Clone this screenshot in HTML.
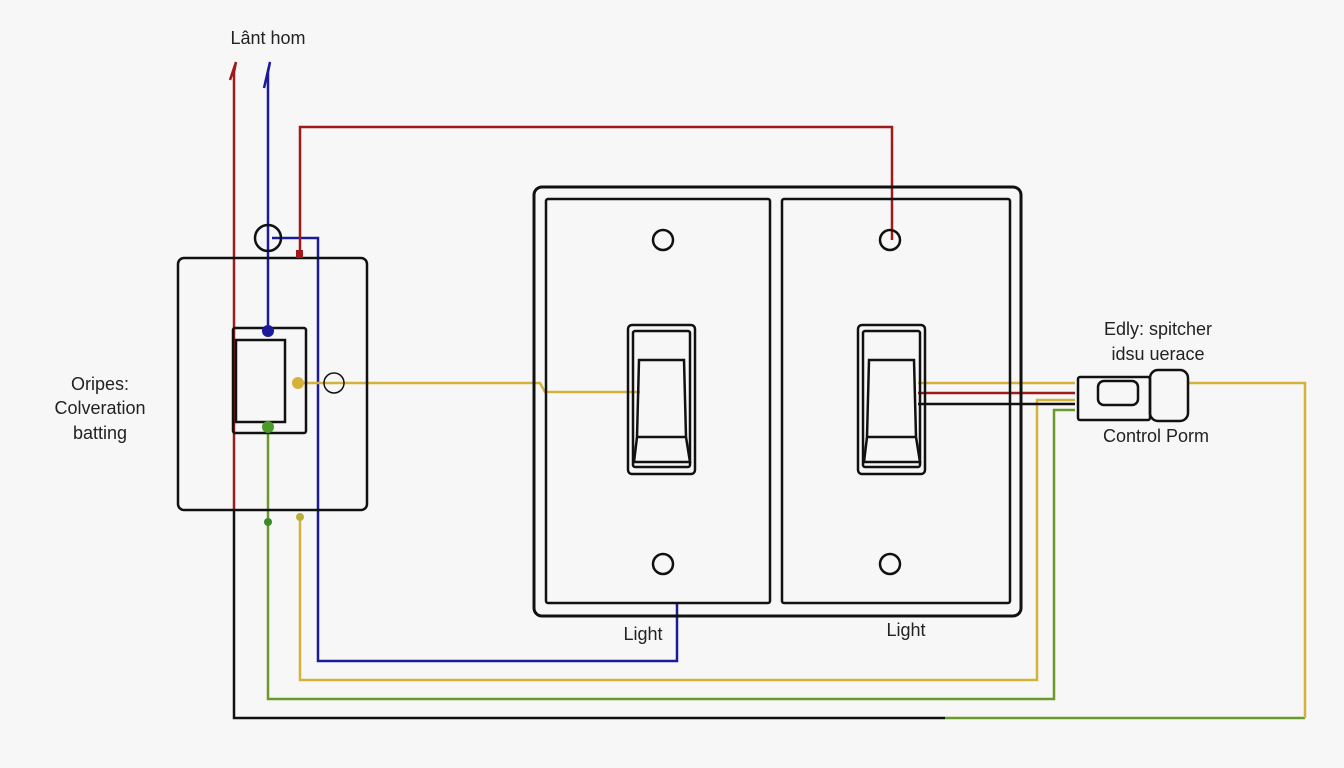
<!DOCTYPE html>
<html><head><meta charset="utf-8"><style>
html,body{margin:0;padding:0;background:#f7f7f7;}
svg{display:block}
text{font-family:"Liberation Sans",sans-serif;fill:#222;font-size:18px}
</style></head><body>
<svg width="1344" height="768" viewBox="0 0 1344 768" xmlns="http://www.w3.org/2000/svg">
<rect width="1344" height="768" fill="#f7f7f7"/>
<g fill="none" stroke-width="2.5">
<!-- red left -->
<polyline points="230,80 236,62 234,72 234,510" stroke="#a01a1a"/>
<polyline points="234,510 234,718 945,718" stroke="#111"/>
<polyline points="945,718 1305,718" stroke="#6a9a2a"/>
<polyline points="1188,383 1305,383 1305,718" stroke="#d4b23a"/>
<!-- blue -->
<polyline points="264,88 270,62 268,72 268,331" stroke="#1a1a9a"/>
<polyline points="272,238 318,238 318,661 677,661 677,603" stroke="#1a1a9a"/>
<!-- red top loop -->
<polyline points="300,258 300,127 892,127 892,240" stroke="#a01a1a"/>
<!-- yellow -->
<polyline points="298,383 540,383 545,392 640,392" stroke="#d4b23a"/>
<polyline points="300,517 300,680 1037,680 1037,400 1075,400" stroke="#d4b23a"/>
<!-- green -->
<polyline points="268,427 268,699 1054,699 1054,410 1075,410" stroke="#6a9a2a"/>
<!-- right connections -->
<line x1="918" y1="383" x2="1075" y2="383" stroke="#d4b23a"/>
<line x1="918" y1="393" x2="1075" y2="393" stroke="#a01a1a"/>
<line x1="918" y1="404" x2="1075" y2="404" stroke="#111"/>
</g>
<g fill="none" stroke="#111" stroke-width="2.5">
<rect x="178" y="258" width="189" height="252" rx="6"/>
<rect x="233" y="328" width="73" height="105" rx="2"/>
<rect x="236" y="340" width="49" height="82"/>
<circle cx="268" cy="238" r="13"/>
<circle cx="334" cy="383" r="10" stroke-width="1.5"/>
<rect x="534" y="187" width="487" height="429" rx="8" stroke-width="3"/>
<rect x="546" y="199" width="224" height="404" rx="2"/>
<rect x="782" y="199" width="228" height="404" rx="2"/>
<circle cx="663" cy="240" r="10"/><circle cx="890" cy="240" r="10"/>
<circle cx="663" cy="564" r="10"/><circle cx="890" cy="564" r="10"/>
<rect x="628" y="325" width="67" height="149" rx="4"/>
<rect x="633" y="331" width="57" height="136" rx="2"/>
<polygon points="639,360 684,360 686,437 690,462 634,462 637,437"/>
<line x1="636" y1="437" x2="687" y2="437"/>
<rect x="858" y="325" width="67" height="149" rx="4"/>
<rect x="863" y="331" width="57" height="136" rx="2"/>
<polygon points="869,360 914,360 916,437 920,462 864,462 867,437"/>
<line x1="866" y1="437" x2="917" y2="437"/>
<rect x="1078" y="377" width="72" height="43" rx="2"/>
<rect x="1098" y="381" width="40" height="24" rx="6"/>
<rect x="1150" y="370" width="38" height="51" rx="8"/>
</g>
<circle cx="268" cy="331" r="6" fill="#1a1a9a"/>
<circle cx="298" cy="383" r="6" fill="#d4b23a"/>
<circle cx="268" cy="427" r="6" fill="#4a9a2a"/>
<circle cx="300" cy="517" r="4" fill="#b8b03a"/>
<circle cx="268" cy="522" r="4" fill="#3a8a2a"/>
<rect x="296" y="250" width="7" height="8" fill="#a01a1a"/>
<text x="268" y="44" text-anchor="middle">Lânt hom</text>
<text x="100" y="390" text-anchor="middle">Oripes:</text>
<text x="100" y="414" text-anchor="middle">Colveration</text>
<text x="100" y="439" text-anchor="middle">batting</text>
<text x="643" y="640" text-anchor="middle">Light</text>
<text x="906" y="636" text-anchor="middle">Light</text>
<text x="1158" y="335" text-anchor="middle">Edly: spitcher</text>
<text x="1158" y="360" text-anchor="middle">idsu uerace</text>
<text x="1156" y="442" text-anchor="middle">Control Porm</text>
</svg>
</body></html>
